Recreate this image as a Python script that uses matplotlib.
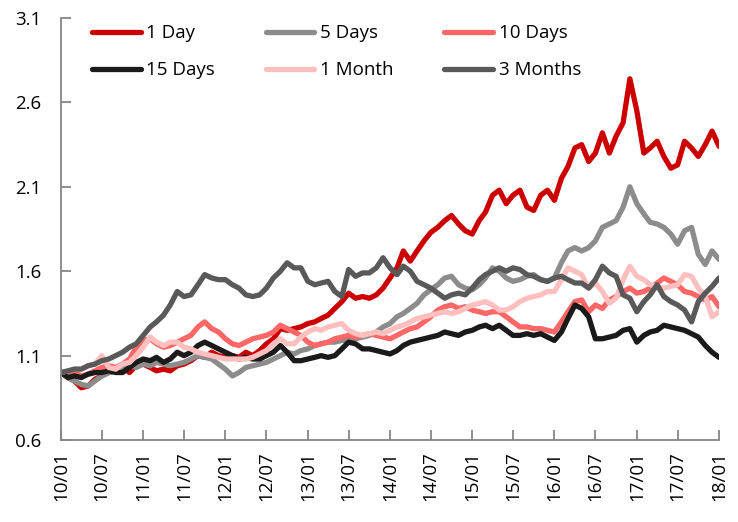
import numpy as np
import pandas as pd
import matplotlib
matplotlib.use('Agg')
import matplotlib.pyplot as plt
import matplotlib.dates as mdates

plt.rcParams['font.family'] = ['Open Sans', 'DejaVu Sans']

# monthly observations, 2010-01 .. 2018-01
dates = pd.date_range('2010-01-01', '2018-01-01', freq='MS')

one_day = [1.00, 0.97, 0.95, 0.91, 0.92, 0.96, 0.98, 1.00, 1.01, 1.03, 1.00, 1.04,
           1.05, 1.03, 1.01, 1.02, 1.01, 1.04, 1.05, 1.07, 1.10, 1.09, 1.12, 1.10,
           1.09, 1.10, 1.09, 1.12, 1.10, 1.13, 1.17, 1.20, 1.26, 1.25, 1.26, 1.27,
           1.29, 1.30, 1.32, 1.34, 1.38, 1.42, 1.47, 1.44, 1.45, 1.44, 1.46, 1.50,
           1.56, 1.62, 1.72, 1.66, 1.72, 1.78, 1.83, 1.86, 1.90, 1.93, 1.88, 1.84,
           1.82, 1.90, 1.95, 2.05, 2.08, 2.00, 2.05, 2.08, 1.98, 1.96, 2.05, 2.08,
           2.02, 2.15, 2.22, 2.33, 2.35, 2.25, 2.30, 2.42, 2.30, 2.40, 2.48, 2.74,
           2.55, 2.30, 2.33, 2.37, 2.28, 2.21, 2.23, 2.37, 2.33, 2.28, 2.35, 2.43,
           2.34]
five_days = [1.00, 0.97, 0.95, 0.93, 0.92, 0.95, 0.98, 1.00, 1.01, 1.02, 1.04, 1.03,
             1.05, 1.04, 1.06, 1.05, 1.04, 1.05, 1.06, 1.08, 1.10, 1.09, 1.08, 1.05,
             1.02, 0.98, 1.00, 1.03, 1.04, 1.05, 1.06, 1.08, 1.10, 1.12, 1.11, 1.13,
             1.14, 1.16, 1.17, 1.18, 1.18, 1.19, 1.19, 1.20, 1.21, 1.22, 1.24, 1.27,
             1.29, 1.33, 1.35, 1.38, 1.41, 1.46, 1.49, 1.52, 1.56, 1.57, 1.52, 1.50,
             1.49, 1.52, 1.56, 1.62, 1.60, 1.56, 1.54, 1.55, 1.57, 1.58, 1.55, 1.54,
             1.56, 1.65, 1.72, 1.74, 1.72, 1.74, 1.78, 1.86, 1.88, 1.90, 1.98, 2.10,
             2.00, 1.94, 1.89, 1.88, 1.86, 1.82, 1.76, 1.84, 1.86, 1.70, 1.64, 1.72,
             1.67]
ten_days = [1.00, 0.99, 1.00, 0.98, 0.99, 1.01, 1.03, 1.04, 1.03, 1.05, 1.08, 1.15,
            1.19, 1.20, 1.17, 1.15, 1.16, 1.18, 1.20, 1.22, 1.27, 1.30, 1.26, 1.24,
            1.20, 1.17, 1.16, 1.18, 1.20, 1.21, 1.22, 1.24, 1.28, 1.26, 1.24, 1.22,
            1.18, 1.16, 1.17, 1.18, 1.20, 1.21, 1.22, 1.21, 1.22, 1.23, 1.22, 1.21,
            1.20, 1.22, 1.24, 1.26, 1.27, 1.30, 1.33, 1.37, 1.39, 1.40, 1.38, 1.39,
            1.37, 1.36, 1.35, 1.36, 1.36, 1.33, 1.30, 1.27, 1.27, 1.26, 1.26, 1.25,
            1.24, 1.30, 1.36, 1.42, 1.43, 1.36, 1.40, 1.38, 1.43, 1.45, 1.48, 1.50,
            1.47, 1.48, 1.50, 1.53, 1.56, 1.54, 1.52, 1.48, 1.47, 1.45, 1.43, 1.45,
            1.39]
fifteen_days = [1.00, 0.97, 0.98, 0.97, 0.99, 1.00, 1.00, 1.01, 1.00, 1.00, 1.03, 1.06,
                1.08, 1.07, 1.09, 1.06, 1.08, 1.12, 1.10, 1.12, 1.16, 1.18, 1.16, 1.14,
                1.12, 1.10, 1.08, 1.09, 1.08, 1.08, 1.10, 1.12, 1.16, 1.12, 1.07, 1.07,
                1.08, 1.09, 1.10, 1.09, 1.10, 1.14, 1.18, 1.17, 1.14, 1.14, 1.13, 1.12,
                1.11, 1.13, 1.16, 1.18, 1.19, 1.20, 1.21, 1.22, 1.24, 1.23, 1.22, 1.24,
                1.25, 1.27, 1.28, 1.26, 1.28, 1.25, 1.22, 1.22, 1.23, 1.22, 1.23, 1.21,
                1.19, 1.24, 1.32, 1.40, 1.38, 1.33, 1.20, 1.20, 1.21, 1.22, 1.25, 1.26,
                1.18, 1.22, 1.24, 1.25, 1.28, 1.27, 1.26, 1.25, 1.23, 1.21, 1.16, 1.12,
                1.09]
one_month = [1.00, 1.01, 1.02, 1.02, 1.04, 1.05, 1.10, 1.03, 1.02, 1.05, 1.06, 1.10,
             1.15, 1.21, 1.18, 1.16, 1.18, 1.18, 1.15, 1.14, 1.12, 1.11, 1.10, 1.09,
             1.08, 1.08, 1.08, 1.08, 1.09, 1.11, 1.13, 1.17, 1.20, 1.17, 1.17, 1.21,
             1.24, 1.26, 1.25, 1.27, 1.28, 1.29, 1.25, 1.23, 1.22, 1.23, 1.24, 1.23,
             1.25, 1.27, 1.28, 1.30, 1.32, 1.33, 1.34, 1.35, 1.36, 1.35, 1.36, 1.38,
             1.40, 1.41, 1.42, 1.40, 1.37, 1.37, 1.39, 1.42, 1.44, 1.45, 1.46, 1.48,
             1.48, 1.55, 1.62, 1.60, 1.58, 1.50, 1.53, 1.48, 1.41, 1.44, 1.55, 1.63,
             1.57, 1.55, 1.52, 1.51, 1.50, 1.51, 1.52, 1.58, 1.57, 1.50, 1.45, 1.33,
             1.36]
three_months = [1.00, 1.01, 1.02, 1.02, 1.04, 1.05, 1.07, 1.08, 1.10, 1.12, 1.15, 1.17,
                1.22, 1.27, 1.30, 1.34, 1.40, 1.48, 1.45, 1.46, 1.52, 1.58, 1.56, 1.55,
                1.55, 1.52, 1.50, 1.46, 1.45, 1.46, 1.50, 1.56, 1.60, 1.65, 1.62, 1.62,
                1.54, 1.52, 1.53, 1.54, 1.48, 1.45, 1.61, 1.57, 1.59, 1.59, 1.62, 1.68,
                1.62, 1.58, 1.63, 1.60, 1.54, 1.52, 1.50, 1.47, 1.44, 1.46, 1.47, 1.46,
                1.50, 1.55, 1.58, 1.60, 1.62, 1.60, 1.62, 1.61, 1.58, 1.57, 1.55, 1.54,
                1.56, 1.57, 1.55, 1.53, 1.53, 1.50, 1.55, 1.63, 1.59, 1.57, 1.46, 1.44,
                1.36, 1.42, 1.46, 1.52, 1.45, 1.42, 1.40, 1.37, 1.30, 1.42, 1.47, 1.51,
                1.56]

labels = ['1 Day', '5 Days', '10 Days', '15 Days', '1 Month', '3 Months']
series = [one_day, five_days, ten_days, fifteen_days, one_month, three_months]
colors = ['#CC0000', '#8C8C8C', '#FF6666', '#1A1A1A', '#FFBFBF', '#595959']

fig = plt.figure(figsize=(7.38, 5.22), dpi=100)
ax = fig.add_axes([0.0827, 0.157, 0.8916, 0.8085])

lines = []
for vals, lab, col in zip(series, labels, colors):
    ln, = ax.plot(dates, vals, color=col, lw=3.8, label=lab, solid_capstyle='round')
    lines.append(ln)

ax.set_xlim(pd.Timestamp('2010-01-01'), pd.Timestamp('2018-01-01'))
ax.set_ylim(0.6, 3.1)
ax.set_yticks(np.arange(0.6, 3.11, 0.5))
ax.yaxis.set_major_formatter(plt.FormatStrFormatter('%.1f'))
ax.xaxis.set_major_locator(mdates.MonthLocator(bymonth=[1, 7]))
ax.xaxis.set_major_formatter(mdates.DateFormatter('%y/%m'))

for side in ['top', 'right']:
    ax.spines[side].set_visible(False)
for side in ['left', 'bottom']:
    ax.spines[side].set_color('#868686')
    ax.spines[side].set_linewidth(1.3)
ax.tick_params(axis='both', direction='in', length=7, width=1.3, color='#868686',
               labelsize=13.5, labelcolor='black')
ax.tick_params(axis='y', pad=14)
ax.tick_params(axis='x', pad=8)
plt.setp(ax.get_xticklabels(), rotation=90)

# legend filled row by row, as in the original
order = [0, 3, 1, 4, 2, 5]
ax.legend([lines[i] for i in order], [labels[i] for i in order],
          loc='upper left', bbox_to_anchor=(0.047, 0.985), ncol=3, frameon=False,
          fontsize=13.5, handlelength=2.6, handletextpad=0.3, columnspacing=2.7,
          labelspacing=1.0, borderaxespad=0, borderpad=0)

fig.savefig('out.png', dpi=100)
